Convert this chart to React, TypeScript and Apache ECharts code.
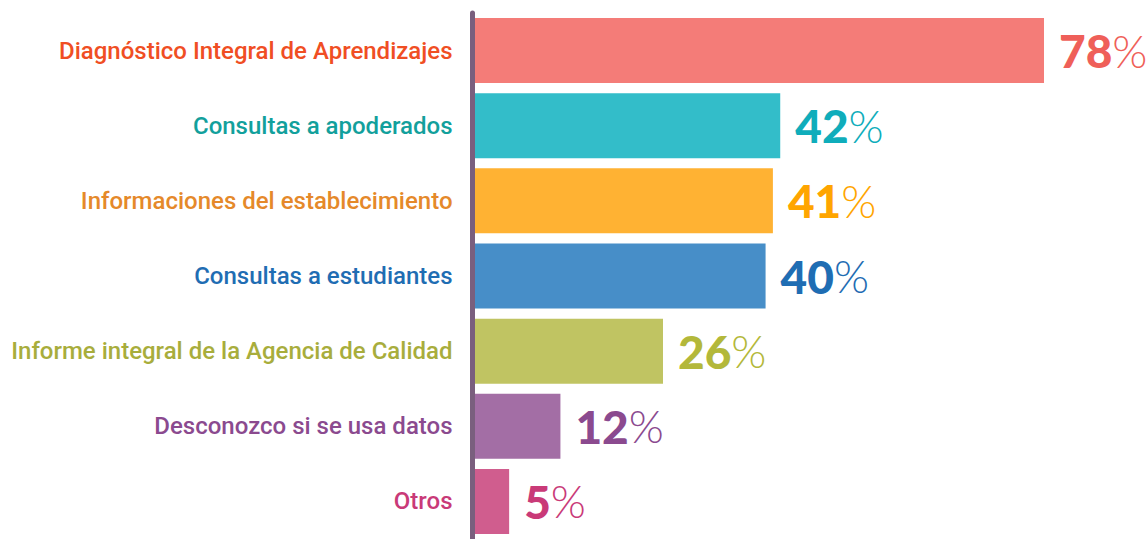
import React, { useEffect, useRef } from "react";
import * as echarts from "echarts";

const categories = [
  "Diagnóstico Integral de Aprendizajes",
  "Consultas a apoderados",
  "Informaciones del establecimiento",
  "Consultas a estudiantes",
  "Informe integral de la Agencia de Calidad",
  "Desconozco si se usa datos",
  "Otros",
];
const values = [78, 42, 41, 40, 26, 12, 5];
const barColors = ["#f47c78", "#33bdc9", "#ffb233", "#478ec8", "#c0c462", "#a36ea5", "#d05d8e"];
const valueColors = ["#ef5f59", "#0fadbb", "#ffa500", "#1f6db3", "#b3b83a", "#8b4a8f", "#c93a78"];
const categoryColors = ["#f04e23", "#12a09c", "#e5892a", "#1f6db3", "#a8ad3c", "#8b4a8f", "#c93a78"];

export default function App() {
  const ref = useRef<HTMLDivElement>(null);
  useEffect(() => {
    if (!ref.current) return;
    const chart = echarts.init(ref.current, null, { renderer: "svg" });
    chart.setOption({
      animation: false,
      grid: { left: 472.5, right: 104, top: 13, height: 528, containLabel: false },
      xAxis: { type: "value", min: 0, max: 78, show: false },
      yAxis: {
        type: "category",
        inverse: true,
        z: 5,
        data: categories.map((c, i) => ({ value: c, textStyle: { color: categoryColors[i] } })),
        axisLine: { show: true, lineStyle: { color: "#7a5f7e", width: 5 } },
        axisTick: { show: false },
        axisLabel: {
          margin: 20,
          fontFamily: "Roboto",
          fontWeight: 500,
          fontSize: 24,
        },
      },
      series: [
        {
          type: "bar",
          barWidth: 65,
          data: values.map((v, i) => ({
            value: v,
            itemStyle: { color: barColors[i] },
            label: {
              show: true,
              position: "right",
              distance: 15,
              formatter: `{n|${v}}{p|%}`,
              rich: {
                n: { fontFamily: "Lato", fontWeight: 900, fontSize: 46, color: valueColors[i] },
                p: { fontFamily: "Lato", fontWeight: 300, fontSize: 45, color: valueColors[i] },
              },
            },
          })),
        },
      ],
    });
    return () => chart.dispose();
  }, []);
  return (
    <div
      ref={ref}
      style={{ position: "fixed", left: 0, top: 0, width: 1148, height: 539, background: "#fff" }}
    />
  );
}
